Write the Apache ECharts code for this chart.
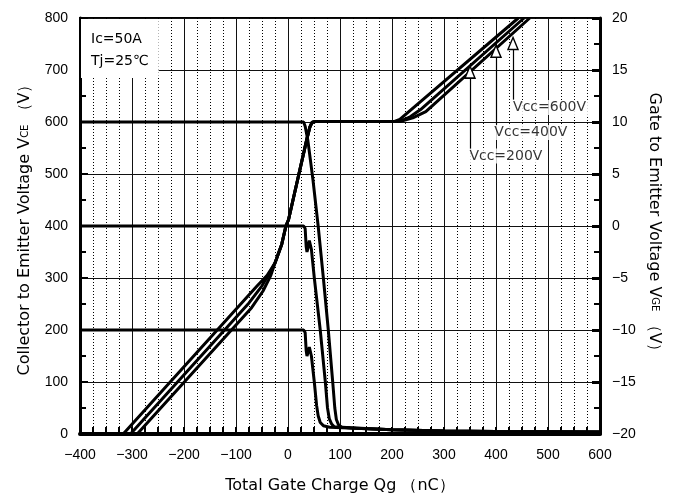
<!DOCTYPE html>
<html>
<head>
<meta charset="utf-8">
<script src="https://cdn.jsdelivr.net/npm/echarts@6/dist/echarts.min.js"></script>
<style>
  html, body { margin: 0; padding: 0; background: #fff; }
  #chart { width: 678px; height: 499px; }
</style>
</head>
<body>
<div id="chart"></div>
<script>
// VCE curves, [Qg (nC), VCE (V)]
var vce200 = [[-400,200],[30,200],[33,195],[35,160],[36.5,150],[38,155],[41,167],[43,168],[45,150],[50.6,100],[55,55],[58,35],[62,22],[68,16],[80,13],[130,11],[200,8],[300,6],[400,5],[600,4]];
var vce400 = [[-400,400],[30,400],[33,395],[35,360],[36.5,350],[38,356],[41,372],[43,373],[45,355],[50.6,300],[62,200],[71.8,100],[76,50],[79.5,29],[84,19],[89,14],[120,12],[200,8],[300,6],[400,5],[600,4]];
var vce600 = [[-400,600],[30,600],[33,592],[38,566],[48,489],[58,400],[68,300],[77.5,200],[86,100],[90,50],[93,28],[97,18],[103,13],[130,11],[200,8],[300,6],[400,5],[600,4]];

// VGE curves, [Qg (nC), VGE (V)]
var vgeRise = [[-12,-1.75],[-4,0],[1,0.6],[36,8.3],[42,9.5],[46,9.95],[52,10.05]];
var vge200 = [[-317,-20],[-60,-5.8],[-40,-4.75],[-25,-3.55]].concat(vgeRise, [[205,10.05],[215,10.25],[443,20]]);
var vge400 = [[-303,-20],[-75,-7.4],[-50,-5.75],[-35,-4.5],[-25,-3.55]].concat(vgeRise, [[215,10.05],[235,10.5],[255,11.2],[454,20]]);
var vge600 = [[-290,-20],[-70,-7.85],[-48,-6.25],[-33,-4.75],[-25,-3.55]].concat(vgeRise, [[215,10.05],[240,10.4],[265,11],[465,20]]);

// annotations
var noteNames = ['Vcc=200V', 'Vcc=400V', 'Vcc=600V'];
var noteText = [[345,6.73],[393,9.0],[429,11.4]];
var arrowHead = [[350,14.8],[400,16.8],[432.7,17.55]];
var arrowFoot = [[350,7.35],[400,9.75],[432.7,12.15]];

var xMin = -400, xMax = 600, xStep = 100;
var vceMin = 0, vceMax = 800, vceStep = 100;
var vgeMin = -20, vgeMax = 20, vgeStep = 5;

function minus(v) { return String(v).replace('-', '\u2212'); }

var chart = echarts.init(document.getElementById('chart'));
var font = 'Liberation Sans, Arial, sans-serif';
var wide = 'DejaVu Sans, sans-serif';
var black = '#000';

function curve(name, data, axis) {
  return {
    name: name, type: 'line', yAxisIndex: axis, data: data,
    showSymbol: false, symbol: 'none', clip: true,
    lineStyle: { color: black, width: 3 }, z: 3
  };
}

var series = [
  curve('VCE 200', vce200, 0),
  curve('VCE 400', vce400, 0),
  curve('VCE 600', vce600, 0),
  curve('VGE 200', vge200, 1),
  curve('VGE 400', vge400, 1),
  curve('VGE 600', vge600, 1),
  {
    name: 'arrows', type: 'scatter', yAxisIndex: 1, z: 5,
    data: arrowHead, symbol: 'triangle', symbolSize: [10, 12],
    itemStyle: { color: '#fff', borderColor: black, borderWidth: 1.5, opacity: 1 },
    markLine: {
      silent: true, symbol: 'none', animation: false,
      label: { show: false },
      lineStyle: { color: black, width: 1.2, type: 'solid' },
      data: arrowFoot.map(function (p, i) {
        return [{ coord: p }, { coord: [arrowHead[i][0], arrowHead[i][1] - 0.5] }];
      })
    }
  },
  {
    name: 'notes', type: 'scatter', yAxisIndex: 1, z: 6,
    data: noteText.map(function (p, i) { return { value: p, name: noteNames[i] }; }),
    symbolSize: 0,
    label: {
      show: true, position: 'right', distance: 0,
      formatter: '{b}', color: black, fontSize: 14, fontFamily: wide,
      backgroundColor: '#fff', padding: [1, 2, 0, 2]
    }
  }
];

var option = {
  animation: false,
  backgroundColor: '#fff',
  textStyle: { fontFamily: font },
  title: {
    text: 'Ic=50A\nTj=25\u2103',
    left: 81, top: 19,
    backgroundColor: '#fff',
    padding: [9, 10, 6, 10],
    textStyle: { fontSize: 14, fontWeight: 'normal', color: black, lineHeight: 22, fontFamily: wide },
    z: 8
  },
  grid: {
    left: 80, right: 78, top: 18, bottom: 64,
    show: true, borderColor: black, borderWidth: 2, backgroundColor: 'transparent'
  },
  xAxis: {
    type: 'value', min: xMin, max: xMax, interval: xStep,
    name: 'Total Gate Charge Qg \uff08nC\uff09',
    nameLocation: 'middle', nameGap: 44,
    nameTextStyle: { fontSize: 16, color: black, fontFamily: wide },
    axisLine: { show: true, onZero: false, lineStyle: { color: black, width: 4 } },
    axisTick: { show: true, inside: true, length: 7, lineStyle: { color: black, width: 2 } },
    minorTick: { show: true, splitNumber: 4, length: 7, lineStyle: { color: black, width: 2 } },
    splitLine: { show: true, lineStyle: { color: '#111', width: 1 } },
    minorSplitLine: { show: true, lineStyle: { color: black, width: 1, type: [1, 2] } },
    axisLabel: { fontSize: 14, color: black, margin: 14, formatter: minus }
  },
  yAxis: [
    {
      type: 'value', min: vceMin, max: vceMax, interval: vceStep, position: 'left',
      name: 'Collector to Emitter Voltage V{s|CE} \uff08V\uff09',
      nameLocation: 'middle', nameGap: 47,
      nameTextStyle: { fontSize: 16, color: black, fontFamily: wide, rich: { s: { fontSize: 10, color: black, fontFamily: wide } } },
      axisLine: { show: true, onZero: false, lineStyle: { color: black, width: 3 } },
      axisTick: { show: true, inside: true, length: 8, lineStyle: { color: black, width: 2 } },
      minorTick: { show: true, splitNumber: 2, length: 6, lineStyle: { color: black, width: 2 } },
      splitLine: { show: true, lineStyle: { color: '#111', width: 1 } },
      axisLabel: { fontSize: 14, color: black, margin: 12, formatter: minus }
    },
    {
      type: 'value', min: vgeMin, max: vgeMax, interval: vgeStep, position: 'right',
      name: 'Gate to Emitter Voltage V{s|GE} \uff08V\uff09',
      nameLocation: 'middle', nameGap: 43, nameRotate: -90,
      nameTextStyle: { fontSize: 16, color: black, fontFamily: wide, rich: { s: { fontSize: 10, color: black, fontFamily: wide } } },
      axisLine: { show: true, onZero: false, lineStyle: { color: black, width: 3 } },
      axisTick: { show: true, inside: true, length: 8, lineStyle: { color: black, width: 3 } },
      minorTick: { show: true, splitNumber: 2, length: 6, lineStyle: { color: black, width: 2 } },
      splitLine: { show: false },
      axisLabel: { fontSize: 14, color: black, margin: 12, formatter: minus }
    }
  ],
  series: series
};

chart.setOption(option);
</script>
</body>
</html>
